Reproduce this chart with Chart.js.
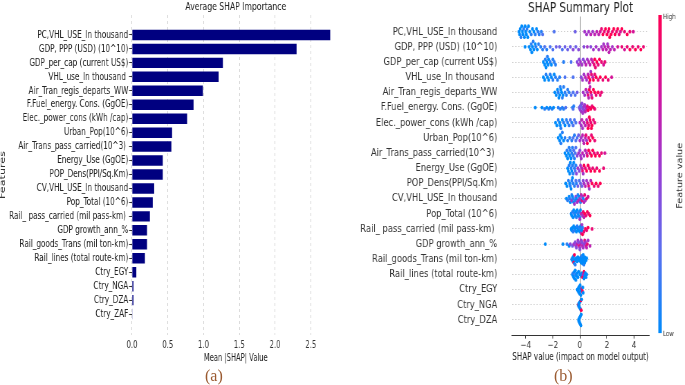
<!DOCTYPE html>
<html><head><meta charset="utf-8">
<script src="https://cdn.jsdelivr.net/npm/chart.js@4.4.0/dist/chart.umd.min.js"></script>
<style>
html,body{margin:0;padding:0;background:#fff;overflow:hidden;width:685px;height:385px;position:relative;}
.lab{position:absolute;font-family:"Liberation Serif",serif;font-size:16px;line-height:18px;color:#9a5a30;}
</style></head>
<body>
<div class="lab" style="left:205px;top:367px">(a)</div>
<div class="lab" style="left:554px;top:367px">(b)</div>
<script>
// ---------- data ----------
const features = [
"PC,VHL_USE_In thousand","GDP, PPP (USD) (10^10)","GDP_per_cap (current US$)","VHL_use_In thousand ",
"Air_Tran_regis_departs_WW","F.Fuel_energy. Cons. (GgOE)","Elec._power_cons (kWh /cap)","Urban_Pop(10^6)",
"Air_Trans_pass_carried(10^3) ","Energy_Use (GgOE)","POP_Dens(PPl/Sq.Km)","CV,VHL_USE_In thousand",
"Pop_Total (10^6)","Rail_ pass_carried (mil pass-km) ","GDP growth_ann_%","Rail_goods_Trans (mil ton-km)",
"Rail_lines (total route-km)","Ctry_EGY","Ctry_NGA","Ctry_DZA","Ctry_ZAF"];
const meanAbsShap = [2.77,2.30,1.27,1.21,0.99,0.86,0.77,0.56,0.55,0.43,0.43,0.31,0.29,0.25,0.21,0.21,0.18,0.06,0.02,0.02,0.003];
const barTicks = [0,0.5,1.0,1.5,2.0,2.5];
const shapTicks = [-4,-2,0,2,4];

// SHAP beeswarm points: [shap value, feature value level 0(low)..9(high)]
const pcVhl = [[-4.5,0],[-4.45,0],[-4.4,0],[-4.35,1],[-4.3,0],[-4.25,0],[-4.2,0],[-4.15,1],[-4.1,0],[-4.05,0],[-4.0,0],[-3.95,0],[-3.9,1],[-3.85,0],[-3.8,0],[-3.7,0],[-3.6,1],[-3.5,0],[-3.4,0],[-3.3,1],[-3.2,0],[-3.1,1],[-3.0,1],[-2.85,1],[-2.75,2],[-1.9,2],[-0.35,3],
 [0.35,5],[0.5,5],[0.65,5],[0.8,6],[0.95,5],[1.1,6],[1.25,6],[1.4,6],
 [1.5,7],[1.6,8],[1.7,9],[1.8,8],[1.9,9],[2.0,9],[2.1,8],[2.15,9],[2.2,9],[2.3,9],[2.4,8],[2.5,9],[2.6,9],[2.7,8],[2.8,9],[2.9,8],[3.0,7],[3.1,9],[3.3,8],[3.5,9],[3.7,8],[3.95,7]];
const gdpPpp = [[-4.05,0],[-3.75,0],[-3.65,0],[-3.6,1],[-3.55,0],[-3.5,0],[-3.45,1],[-3.4,0],[-3.3,0],[-3.25,1],[-3.15,0],[-3.05,1],[-2.9,1],[-2.75,1],[-2.6,2],[-2.45,1],
 [-2.2,2],[-2.0,2],[-1.75,3],[-1.5,3],[-1.3,2],[-1.1,3],[-0.9,3],[-0.7,3],[-0.5,4],[-0.3,3],[-0.1,4],
 [0.3,4],[0.55,5],[0.8,4],[1.0,5],[1.2,5],[1.4,5],
 [1.6,5],[1.7,6],[1.75,5],[1.85,6],[1.95,6],[2.05,5],[2.1,6],[2.15,6],[2.25,6],[2.4,5],[2.55,6],
 [2.8,7],[3.1,8],[3.3,7],[3.5,8],[3.7,9],[3.9,8],[4.1,9],[4.3,8],[4.5,9],[4.7,8]];
const gdpPerCap = [[-2.7,0],[-2.6,0],[-2.55,1],[-2.5,0],[-2.45,0],[-2.4,1],[-2.35,0],[-2.3,0],[-2.2,1],[-2.1,0],[-2.0,1],[-1.9,1],[-1.8,1],[-1.2,1],[-0.65,2],
 [-0.2,4],[-0.1,5],[-0.05,4],[0.05,5],[0.15,5],[0.25,4],[0.35,5],[0.45,6],[0.55,5],[0.65,6],[0.75,6],[0.85,6],
 [0.95,7],[1.05,8],[1.1,9],[1.15,8],[1.25,9],[1.35,8],[1.45,9],[1.6,8],[1.75,7],[1.85,8]];
const vhlUse = [[-2.7,0],[-2.6,0],[-2.5,1],[-2.4,0],[-2.3,0],[-2.2,1],[-2.1,0],[-2.0,1],[-1.9,0],[-1.8,1],[-1.65,1],[-1.5,1],[-1.1,2],[-0.5,2],
 [0.1,4],[0.2,5],[0.3,5],[0.4,6],[0.5,5],[0.6,6],[0.7,6],[0.8,5],[0.95,6],
 [0.65,8],[0.75,9],[0.85,8],[1.0,9],[1.1,8],[1.2,9],[1.35,8],[1.5,9],[1.7,8],[1.9,9],[2.1,8],[2.35,7]];
const airTranRegis = [[-1.85,0],[-1.75,0],[-1.65,0],[-1.6,1],[-1.55,0],[-1.5,0],[-1.45,1],[-1.4,0],[-1.35,0],[-1.3,1],[-1.25,0],[-1.2,1],[-1.1,1],[-1.0,1],[-0.9,1],[-0.8,1],[-0.65,2],[-0.5,2],[-0.35,2],[-0.2,3],
 [0.25,5],[0.35,5],[0.45,6],[0.55,5],[0.65,6],[0.75,6],[0.85,6],
 [0.6,8],[0.7,9],[0.8,9],[0.9,8],[1.0,9],[1.1,9],[1.2,8],[1.35,9],[1.5,8],[1.6,8]];
const fFuel = [[-3.3,0],[-2.8,0],[-2.6,1],[-2.45,0],[-2.3,1],[-2.2,0],[-2.05,1],[-1.95,0],[-1.6,1],[-1.45,1],[-1.3,1],[-1.2,1],[-1.05,2],[-0.55,1],[-0.5,2],[-0.45,1],
 [-0.05,3],[0.0,4],[0.02,3],[0.05,4],[0.1,3],[0.12,5],[0.15,4],[0.2,3],[0.22,5],[0.25,4],[0.3,5],[0.32,4],[0.35,5],[0.4,6],[0.45,5],[0.5,6],
 [0.55,8],[0.6,9],[0.7,8],[0.8,9],[0.9,8],[1.0,9],[1.1,8]];
const elecPower = [[-1.8,0],[-1.7,0],[-1.6,1],[-1.5,0],[-1.45,0],[-1.4,1],[-1.3,0],[-1.2,1],[-1.1,0],[-1.0,1],[-0.9,1],[-0.8,1],[-0.7,2],[-0.6,1],[-0.5,2],[-0.4,2],[-0.3,2],
 [0.0,5],[0.1,5],[0.15,6],[0.2,5],[0.3,6],[0.4,6],[0.5,6],
 [0.55,8],[0.6,9],[0.65,8],[0.7,9],[0.75,9],[0.8,8],[0.85,9],[0.9,9],[1.0,8],[1.1,8]];
const urbanPop = [[-1.6,0],[-1.5,0],[-1.45,0],[-1.4,1],[-1.35,0],[-1.3,1],[-1.2,0],[-1.1,1],[-0.9,1],[-0.75,1],[-0.6,1],[-0.5,2],[-0.4,1],[-0.3,2],[-0.2,2],[-0.1,3],
 [0.0,5],[0.1,5],[0.2,6],[0.25,5],[0.3,6],[0.4,6],[0.5,5],
 [0.45,8],[0.55,9],[0.65,8],[0.75,9],[0.85,8],[0.95,9],[1.1,8]];
const airTransPass = [[-1.1,0],[-1.0,0],[-0.95,1],[-0.9,0],[-0.85,0],[-0.8,1],[-0.75,0],[-0.7,1],[-0.65,0],[-0.6,1],[-0.55,1],[-0.5,1],[-0.45,2],[-0.4,1],[-0.35,2],[-0.3,2],
 [-0.2,4],[-0.1,5],[0.0,4],[0.05,5],[0.1,5],[0.2,6],[0.3,5],[0.4,6],[0.5,6],
 [0.55,8],[0.65,9],[0.75,8],[0.85,9],[0.95,9],[1.05,8],[1.15,9],[1.3,8],[1.45,9],[1.6,8],[1.85,7]];
const energyUse = [[-0.9,0],[-0.85,0],[-0.8,1],[-0.75,0],[-0.7,0],[-0.65,1],[-0.6,0],[-0.55,1],[-0.5,1],[-0.45,0],[-0.4,1],[-0.35,2],[-0.3,1],
 [-0.25,4],[-0.15,5],[-0.05,4],[0.05,5],[0.15,6],[0.25,5],
 [0.2,8],[0.3,9],[0.4,8],[0.5,9],[0.6,9],[0.7,8],[0.8,9],[0.95,8],[1.1,9],[1.25,8],[1.45,9],[1.75,8]];
const popDens = [[-1.05,0],[-0.95,0],[-0.85,1],[-0.75,0],[-0.7,1],[-0.65,0],[-0.6,1],[-0.55,0],[-0.5,1],[-0.4,1],[-0.3,2],[-0.25,1],
 [-0.15,3],[-0.05,2],[0.05,3],[0.15,3],[0.25,4],
 [0.3,5],[0.4,6],[0.5,5],[0.6,6],[0.7,5],[0.8,6],
 [0.65,8],[0.9,9],[1.05,8],[1.2,9],[1.35,8],[1.5,9]];
const cvVhl = [[-1.0,0],[-0.9,1],[-0.8,0],[-0.75,1],[-0.7,0],[-0.6,5],[-0.6,1],[-0.55,0],[-0.5,1],[-0.45,0],[-0.4,5],[-0.35,1],[-0.3,4],[-0.25,0],[-0.2,5],[-0.15,1],[-0.1,6],[-0.05,0],[0.0,5],[0.05,1],[0.1,6],[0.15,8],[0.2,5],[0.25,1],[0.3,6],[0.35,8],[0.4,5],[0.5,8],[0.6,7]];
const popTotal = [[-0.65,0],[-0.6,0],[-0.55,1],[-0.5,0],[-0.45,0],[-0.4,1],[-0.35,0],[-0.3,0],[-0.25,1],[-0.2,0],[-0.15,1],[-0.1,0],[-0.05,1],[0.0,1],[0.05,0],
 [0.0,5],[0.1,6],[0.2,5],[0.3,6],
 [0.25,8],[0.35,9],[0.45,8],[0.55,9],[0.65,8],[0.75,9]];
const railPass = [[-0.65,0],[-0.6,0],[-0.55,0],[-0.5,1],[-0.45,0],[-0.4,0],[-0.35,1],[-0.3,0],[-0.25,0],[-0.2,1],[-0.15,0],[-0.1,0],[-0.05,1],[0.0,0],[0.05,0],[0.1,1],[0.15,0],[0.2,1],
 [0.1,6],[0.15,5],
 [0.2,9],[0.3,8],[0.4,9],[0.5,8],[0.6,9],[0.9,8]];
const gdpGrowth = [[-2.55,0],[-1.25,0],[-0.95,1],[-0.8,0],
 [-0.7,4],[-0.55,3],[-0.45,5],[-0.35,4],[-0.3,5],[-0.25,4],[-0.2,6],[-0.15,5],[-0.1,4],[-0.05,8],[0.0,5],[0.0,4],[0.05,6],[0.1,5],[0.15,4],[0.2,6],[0.25,5],[0.3,4],[0.35,8],[0.4,5],[0.45,7],[0.5,6],[0.55,8],[0.6,5],[0.75,6]];
const railGoods = [[-0.6,0],[-0.55,0],[-0.55,1],[-0.5,0],[-0.5,0],[-0.45,9],[-0.45,0],[-0.4,0],[-0.4,9],[-0.35,0],[-0.35,1],[-0.3,0],[-0.25,0],[-0.2,0],[-0.15,0],[-0.1,0],[-0.05,0],[0.0,0],[0.05,0],[0.1,0],[0.1,0],[0.15,0],[0.15,1],[0.2,0],[0.2,0],[0.25,0],[0.25,0],[0.3,0],[0.3,1],[0.35,0],[0.35,0],[0.4,0],[0.45,0],[0.5,0]];
const railLines = [[-0.55,0],[-0.5,0],[-0.5,1],[-0.45,0],[-0.4,0],[-0.4,0],[-0.35,0],[-0.3,1],[-0.3,0],[-0.25,0],[-0.2,0],[-0.15,0],[-0.1,0],[0.0,0],[0.1,0],[0.15,0],[0.2,9],[0.25,6],[0.3,9],[0.3,0],[0.35,0],[0.4,0],[0.45,0],[0.5,0]];
const ctryEgy = [[-0.2,0],[-0.15,0],[-0.12,0],[-0.1,0],[-0.08,0],[-0.05,0],[-0.03,0],[0.0,0],[0.02,0],[0.05,0],[0.08,0],[0.1,0],[0.15,9],[0.2,9],[0.22,0],[0.25,0]];
const ctryNga = [[-0.12,9],[-0.1,0],[-0.08,0],[-0.05,0],[-0.03,0],[0.0,0],[0.02,0],[0.05,0],[0.08,9],[0.1,9],[0.12,0]];
const ctryDza = [[-0.1,0],[-0.08,0],[-0.06,0],[-0.04,0],[-0.02,0],[0.0,0],[0.02,0],[0.04,0],[0.06,0],[0.08,0],[0.1,0]];

const swarmRows = [pcVhl,gdpPpp,gdpPerCap,vhlUse,airTranRegis,fFuel,elecPower,urbanPop,airTransPass,energyUse,popDens,cvVhl,popTotal,railPass,gdpGrowth,railGoods,railLines,ctryEgy,ctryNga,ctryDza];
const swarmLabels = features.slice(0, swarmRows.length);

// ---------- helpers ----------
const FONT = '"DejaVu Sans"';
const mctx = document.createElement('canvas').getContext('2d');
function tw(text,size){mctx.font=size+'px '+FONT;return mctx.measureText(text).width;}
function fitSize(text,finalW,s){return 100*finalW/(s*tw(text,100));}
// horizontal compression of each panel (the reference text is condensed)
const s1 = 91/tw(features[0],10.5);
const s2 = 104.6/tw(features[0],11);

function makeCanvas(left,finalW,s){
  const w=Math.ceil(finalW/s);
  const d=document.createElement('div');
  d.style.cssText='position:absolute;left:'+left+'px;top:0;width:'+w+'px;height:385px;transform:scaleX('+s+');transform-origin:0 0;';
  const c=document.createElement('canvas'); c.width=w; c.height=385; d.appendChild(c);
  document.body.insertBefore(d, document.body.firstChild);
  return {c,w};
}

const cmapStops = [[0,[0,139,251]],[0.25,[88,112,240]],[0.5,[150,62,213]],[0.75,[208,20,160]],[1,[255,0,82]]];
function cmap(t){
  for(let i=1;i<cmapStops.length;i++){
    const [t1,c1]=cmapStops[i], [t0,c0]=cmapStops[i-1];
    if(t<=t1){const f=(t-t0)/(t1-t0);return 'rgb('+c0.map((v,k)=>Math.round(v+(c1[k]-v)*f)).join(',')+')';}
  }
  return 'rgb(255,0,82)';
}
// deterministic beeswarm stacking (like SHAP's layered offsets)
function swarm(points,rx,ry,cap){
  const sorted=points.map(p=>({x:p[0],lv:p[1],off:0})).sort((a,b)=>a.x-b.x);
  const placed=[];
  for(const p of sorted){
    let k=0,off=0;
    for(;;){
      off=Math.ceil(k/2)*(k%2?1:-1)*ry;
      const ok=placed.every(q=>{const dx=(q.x-p.x)/rx,dy=(q.off-off)/ry;return dx*dx+dy*dy>=0.999;});
      if(ok)break;k++;
    }
    p.off=off;placed.push(p);
  }
  const m=Math.max(...placed.map(p=>Math.abs(p.off)));
  const s=m>cap?cap/m:1;
  placed.forEach(p=>p.off*=s);
  return placed;
}
function fitArea(chart,pad,top,bottom){
  for(let i=0;i<2;i++){
    const a=chart.chartArea;
    pad.top+=top-a.top; pad.bottom+=a.bottom-bottom;
    chart.update();
  }
}

Chart.defaults.font.family = FONT+', sans-serif';
Chart.defaults.color = '#222';

// ---------- left: Average SHAP importance ----------
const L = makeCanvas(0,340,s1);
const pad1 = {left:0,right:L.w-339.5/s1,top:0,bottom:21};
const chart1 = new Chart(L.c, {
  type:'bar',
  data:{datasets:[{
    data: meanAbsShap.map((v,i)=>({x:v,y:i})),
    backgroundColor:'#000080', borderWidth:0,
    barPercentage:0.75, categoryPercentage:1
  }]},
  options:{
    indexAxis:'y', responsive:false, animation:false, devicePixelRatio:1,
    layout:{padding:pad1},
    plugins:{
      legend:{display:false}, tooltip:{enabled:false},
      title:{display:true,fullSize:false,text:'Average SHAP Importance',font:{size:fitSize('Average SHAP Importance',101,s1),weight:'normal'},color:'#222',padding:{top:0,bottom:1}}
    },
    scales:{
      x:{type:'linear',min:0,max:2.9,
        afterBuildTicks:a=>{a.ticks=barTicks.map(v=>({value:v}));},
        ticks:{callback:v=>Number(v).toFixed(1),font:{size:10},color:'#333',padding:4,maxRotation:0,autoSkip:false},
        grid:{color:'#d0d0d0',drawTicks:false,lineWidth:1},
        border:{display:false,dash:[3,3]},
        title:{display:true,text:'Mean |SHAP| Value',font:{size:fitSize('Mean |SHAP| Value',64,s1)},color:'#222',padding:0},
        afterFit:s=>{s.height=29;}
      },
      y:{type:'linear',reverse:true,min:-1.43,max:21.5,offset:false,
        afterBuildTicks:a=>{a.ticks=features.map((_,i)=>({value:i}));},
        ticks:{callback:v=>features[v],font:{size:10.5},color:'#222',padding:1,autoSkip:false},
        grid:{offset:false,drawOnChartArea:false,drawTicks:true,tickLength:3/s1,tickColor:'#333'},
        border:{display:false},
        title:{display:true,text:'Features',font:{size:fitSize('Features',48,1)},color:'#333',padding:{top:-2.5,bottom:0}},
        afterFit:s=>{s.width=132/s1;}
      }
    }
  }
});
fitArea(chart1,pad1,15,335);

// ---------- right: SHAP summary (beeswarm) ----------
const R = makeCanvas(340,345,s2);
const cbX=(658.3-648.9)/s2, cbW=3.3/s2, cbTxt=(663-648.9)/s2, fvX=(680-648.9)/s2;
const colorbarPlugin = {
  id:'colorbar',
  afterDraw(chart){
    const {ctx,chartArea:a}=chart;
    const x0=a.right+cbX, top=a.top-1.5, bot=a.bottom-2;
    const g=ctx.createLinearGradient(0,bot,0,top);
    cmapStops.forEach(([t,c])=>g.addColorStop(t,'rgb('+c.join(',')+')'));
    ctx.save();
    ctx.fillStyle=g; ctx.fillRect(x0,top,cbW,bot-top);
    ctx.fillStyle='#333'; ctx.font=fitSize('High',12.7,s2).toFixed(2)+'px '+FONT; ctx.textAlign='left'; ctx.textBaseline='middle';
    ctx.fillText('High',a.right+cbTxt,top+2);
    ctx.fillText('Low',a.right+cbTxt,bot+1);
    ctx.translate(a.right+fvX,(a.top+a.bottom)/2); ctx.rotate(-Math.PI/2);
    ctx.textAlign='center'; ctx.font=fitSize('Feature value',66,1).toFixed(2)+'px '+FONT;
    ctx.fillText('Feature value',0,0);
    ctx.restore();
  }
};

const swarmDatasets = swarmRows.map((pts,row)=>{
  const placed=swarm(pts,0.25,0.2,0.36);
  return {
    data: placed.map(p=>({x:p.x,y:row+p.off})),
    pointBackgroundColor: placed.map(p=>cmap(p.lv/9)),
    pointRadius:1.9, pointBorderWidth:0, pointHoverRadius:1.9
  };
});

const pad2 = {left:0,right:R.w-(648.9-340)/s2,top:0.3,bottom:21};
const chart2 = new Chart(R.c, {
  type:'scatter',
  data:{datasets:swarmDatasets},
  options:{
    responsive:false, animation:false, devicePixelRatio:1,
    layout:{padding:pad2},
    plugins:{
      legend:{display:false}, tooltip:{enabled:false},
      title:{display:true,fullSize:false,text:'SHAP Summary Plot',font:{size:fitSize('SHAP Summary Plot',105,s2),weight:'normal'},color:'#222',padding:{top:0,bottom:0}}
    },
    scales:{
      x:{type:'linear',min:-5,max:5.1,
        afterBuildTicks:a=>{a.ticks=shapTicks.map(v=>({value:v}));},
        ticks:{callback:v=>v<0?'\u2212'+(-v):String(v),font:{size:9.5},color:'#333',padding:1,maxRotation:0,autoSkip:false},
        grid:{color:c=>(c.tick&&c.tick.value===0)?'#999999':'rgba(0,0,0,0)',drawTicks:true,tickLength:3.5,tickColor:'#333',lineWidth:1},
        border:{display:true,color:'#333',width:1},
        title:{display:true,text:'SHAP value (impact on model output)',font:{size:fitSize('SHAP value (impact on model output)',158,s2)},color:'#222',padding:0},
        afterFit:s=>{s.height=28.9;}
      },
      y:{type:'linear',reverse:true,min:-1,max:20,
        afterBuildTicks:a=>{a.ticks=swarmLabels.map((_,i)=>({value:i}));},
        ticks:{callback:v=>swarmLabels[v],font:{size:11},color:'#333',padding:0,autoSkip:false},
        grid:{color:'#c8c8c8',drawTicks:true,tickLength:(512.2-497.3)/s2,tickColor:'rgba(0,0,0,0)',lineWidth:1},
        border:{display:false,dash:[1.5,2.5]},
        afterFit:s=>{s.width=(512.2-340)/s2;}
      }
    }
  },
  plugins:[colorbarPlugin]
});
fitArea(chart2,pad2,16.5,335.1);
</script>
</body></html>
